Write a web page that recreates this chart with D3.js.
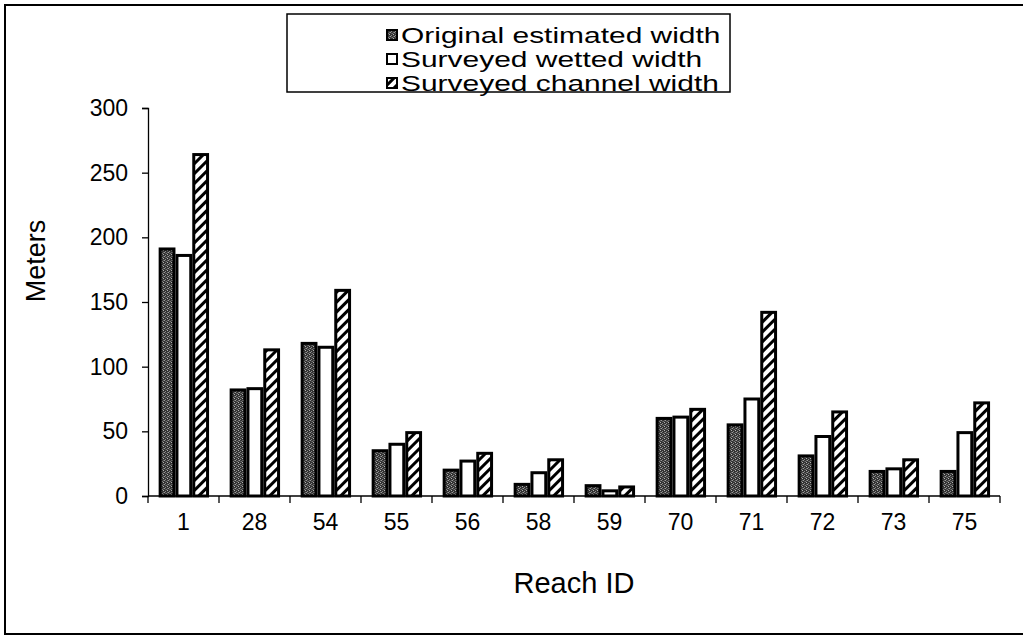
<!DOCTYPE html>
<html>
<head>
<meta charset="utf-8">
<script src="https://cdn.jsdelivr.net/npm/d3@7"></script>
<style>
  html, body { margin: 0; padding: 0; background: #fff; }
  svg { display: block; font-family: "Liberation Sans", Arial, sans-serif; }
</style>
</head>
<body>
<svg id="chart" width="1023" height="636"></svg>
<script>
// Reach IDs along the x axis
const reaches = ["1", "28", "54", "55", "56", "58", "59", "70", "71", "72", "73", "75"];
// Widths in meters per reach
const originalEstimated = [191, 82, 118, 35, 20, 9, 8, 60, 55, 31, 19, 19];
const surveyedWetted    = [186, 83, 115, 40, 27, 18, 4, 61, 75, 46, 21, 49];
const surveyedChannel   = [264, 113, 159, 49, 33, 28, 7, 67, 142, 65, 28, 72];
const seriesNames = ["Original estimated width", "Surveyed wetted width", "Surveyed channel width"];
const yTicks = [0, 50, 100, 150, 200, 250, 300];

const seriesValues = [originalEstimated, surveyedWetted, surveyedChannel];

const svg = d3.select("#chart");
const defs = svg.append("defs");

// Speckled dark fill
const stip = defs.append("pattern").attr("id", "stipple")
  .attr("patternUnits", "userSpaceOnUse").attr("width", 4).attr("height", 4);
stip.append("rect").attr("width", 4).attr("height", 4).attr("fill", "#333");
[[0,0,"#9a9a9a"],[2,1,"#777"],[1,3,"#8a8a8a"],[3,2,"#b0b0b0"],[1,1,"#555"],[3,0,"#666"]]
  .forEach(([x, y, c]) => stip.append("rect").attr("x", x).attr("y", y)
    .attr("width", 1).attr("height", 1).attr("fill", c));

// Diagonal hatch fill
const hatch = defs.append("pattern").attr("id", "hatch")
  .attr("patternUnits", "userSpaceOnUse").attr("width", 7).attr("height", 7)
  .attr("patternTransform", "rotate(45)");
hatch.append("rect").attr("width", 7).attr("height", 7).attr("fill", "#fff");
hatch.append("line").attr("x1", 1.5).attr("x2", 1.5).attr("y1", 0).attr("y2", 7)
  .attr("stroke", "#000").attr("stroke-width", 3);

const fills = ["url(#stipple)", "#fff", "url(#hatch)"];

// Outer frame
svg.append("rect").attr("x", 5).attr("y", 5).attr("width", 1030).attr("height", 629)
  .attr("fill", "none").attr("stroke", "#000").attr("stroke-width", 2);

const plot = { left: 148, right: 1000, top: 108, bottom: 496 };

const x0 = d3.scaleBand().domain(reaches).range([plot.left, plot.right]).padding(0);
const x1 = d3.scaleBand().domain(d3.range(3))
  .range([x0.bandwidth() * 0.15, x0.bandwidth() * 0.86]).padding(0);
const y = d3.scaleLinear().domain([0, 300]).range([plot.bottom, plot.top]);

// Bars
const groups = svg.append("g").selectAll("g").data(reaches).join("g")
  .attr("transform", d => `translate(${x0(d)},0)`);
groups.selectAll("rect")
  .data((d, i) => seriesValues.map((vals, s) => ({ s, v: vals[i] })))
  .join("rect")
  .attr("x", d => x1(d.s) + 1.5)
  .attr("width", x1.bandwidth() - 3)
  .attr("y", d => y(d.v))
  .attr("height", d => y(0) - y(d.v))
  .attr("fill", d => fills[d.s])
  .attr("stroke", "#000")
  .attr("stroke-width", 3);

// Y axis
const yAxis = svg.append("g").attr("transform", `translate(${plot.left},0)`)
  .call(d3.axisLeft(y).tickValues(yTicks).tickSize(6).tickPadding(14));
yAxis.select(".domain").attr("stroke-width", 1.3);
yAxis.selectAll(".tick line").attr("stroke-width", 1.3);
yAxis.selectAll("text").attr("font-size", 23).attr("font-family", "Liberation Sans, Arial, sans-serif");

// X axis: ticks sit between categories
const xAxisG = svg.append("g").attr("transform", `translate(0,${plot.bottom})`);
xAxisG.append("line").attr("x1", plot.left).attr("x2", plot.right)
  .attr("stroke", "#000").attr("stroke-width", 1.3);
xAxisG.selectAll("line.tk").data(reaches.concat(["end"])).join("line").attr("class", "tk")
  .attr("x1", (d, i) => i < reaches.length ? x0(d) : plot.right)
  .attr("x2", (d, i) => i < reaches.length ? x0(d) : plot.right)
  .attr("y1", 0).attr("y2", 7).attr("stroke", "#000").attr("stroke-width", 1.3);
xAxisG.selectAll("text").data(reaches).join("text")
  .attr("x", d => x0(d) + x0.bandwidth() / 2)
  .attr("y", 34)
  .attr("text-anchor", "middle")
  .attr("font-size", 23)
  .text(d => d);

// Axis titles
svg.append("text").attr("x", (plot.left + plot.right) / 2).attr("y", 593)
  .attr("text-anchor", "middle").attr("font-size", 29).text("Reach ID");
svg.append("text").attr("transform", "translate(45,261) rotate(-90)")
  .attr("text-anchor", "middle").attr("font-size", 27).text("Meters");

// Legend
const lg = svg.append("g");
lg.append("rect").attr("x", 287).attr("y", 14).attr("width", 443).attr("height", 78)
  .attr("fill", "#fff").attr("stroke", "#000").attr("stroke-width", 1.5);
const rows = lg.selectAll("g.row").data(seriesNames).join("g").attr("class", "row")
  .attr("transform", (d, i) => `translate(386,${36 + i * 24})`);
rows.append("rect").attr("x", 1).attr("y", -6).attr("width", 10).attr("height", 10)
  .attr("fill", (d, i) => fills[i]).attr("stroke", "#000").attr("stroke-width", 2);
rows.append("text").attr("transform", "translate(15,7) scale(1.4,1)")
  .attr("font-size", 21.4).text(d => d);
</script>
</body>
</html>
